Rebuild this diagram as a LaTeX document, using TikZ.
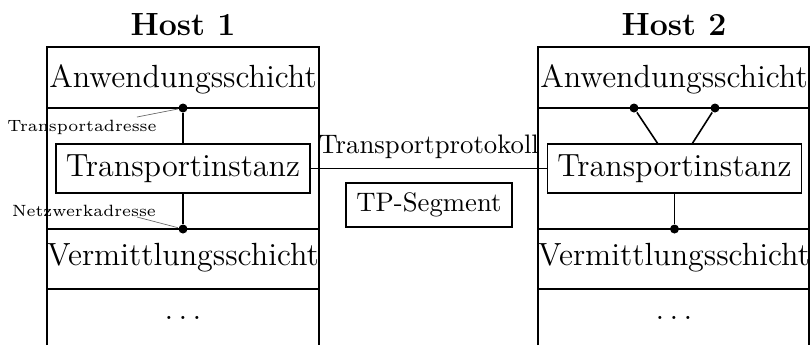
\documentclass[tikz,border=0pt]{standalone}
\begin{document}
\begin{tikzpicture}[x=0.374pt,y=-0.374pt, line width=0.6pt,
  layer/.style={font=\large},
  inst/.style={draw, font=\large, minimum width=254*0.374pt, minimum height=49*0.374pt, inner sep=0pt},
  seg/.style={draw, minimum width=166*0.374pt, minimum height=44*0.374pt, inner sep=0pt},
  hosttitle/.style={font=\large\bfseries},
  small/.style={font=\fontsize{6.1}{8}\selectfont, inner sep=0pt},
  lead/.style={line width=0.25pt, black!60},
  dotnode/.style={circle, fill, inner sep=0pt, minimum size=9*0.374pt}]
\useasboundingbox (0,0) rectangle (811,345);
% Host 1
\node[hosttitle] (h1) at (183,25) {Host 1};
\draw (47,345) -- (47,47) -- (319,47) -- (319,345);
\draw (47,108) -- (319,108);
\draw (47,229) -- (319,229);
\draw (47,289) -- (319,289);
\node[layer] (a1) at (183,79) {Anwendungsschicht};
\node[layer] (v1) at (183,258) {Vermittlungsschicht};
\node[layer] (r1) at (183,318) {$\ldots$};
\node[inst] (t1) at (183,168.5) {Transportinstanz};
\node[dotnode] (p1) at (183,108) {};
\node[dotnode] (q1) at (183,229) {};
\draw (p1) -- (t1);
\draw (t1) -- (q1);
\node[small] (ta) at (82,127) {Transportadresse};
\coordinate (ta1) at (137,117);
\draw[lead] (ta1) -- (p1);
\node[small] (na) at (84,211) {Netzwerkadresse};
\coordinate (na1) at (137,217);
\draw[lead] (na1) -- (q1);
% Host 2
\node[hosttitle] (h2) at (674,25) {Host 2};
\draw (538,345) -- (538,47) -- (809,47) -- (809,345);
\draw (538,108) -- (809,108);
\draw (538,229) -- (809,229);
\draw (538,289) -- (809,289);
\node[layer] (a2) at (674,79) {Anwendungsschicht};
\node[layer] (v2) at (674,258) {Vermittlungsschicht};
\node[layer] (r2) at (674,318) {$\ldots$};
\node[inst] (t2) at (674.5,168.5) {Transportinstanz};
\node[dotnode] (p2) at (634,108) {};
\node[dotnode] (p3) at (715,108) {};
\node[dotnode] (q2) at (674.5,229) {};
\coordinate (e2) at (658,144);
\coordinate (e3) at (692,144);
\draw (p2) -- (e2);
\draw (p3) -- (e3);
\draw (t2) -- (q2);
% between
\draw (t1) -- node[above] (tp) {Transportprotokoll} (t2);
\node[seg] (s) at (429,205) {TP-Segment};
\end{tikzpicture}
\end{document}
